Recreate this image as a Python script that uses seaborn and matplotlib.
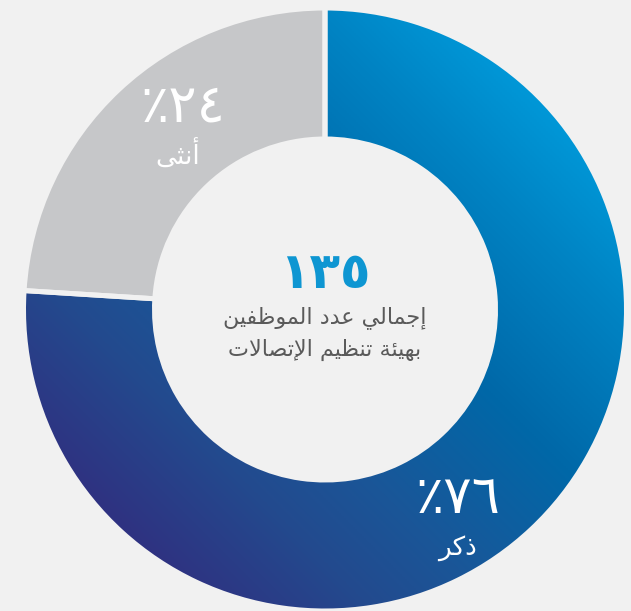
import numpy as np
import matplotlib
matplotlib.use("Agg")
import matplotlib.pyplot as plt
from matplotlib.colors import LinearSegmentedColormap
import seaborn as sns

# ---------------- data ----------------
categories = ["أنثى", "ذكر"]          # female, male
values = [24, 76]                      # percent
total_employees = "\u0661\u0663\u0665"  # ١٣٥

# Arabic text in logical order using presentation forms (shaped); reversed for LTR rendering
lbl_female = "\uFE83\uFEE7\uFE9C\uFEF0"          # أنثى
lbl_male = "\uFEAB\uFEDB\uFEAE"                   # ذكر
center_line1 = ("\uFE87\uFE9F\uFEE4\uFE8E\uFEDF\uFEF2" + " " +
                "\uFECB\uFEAA\uFEA9" + " " +
                "\uFE8D\uFEDF\uFEE4\uFEEE\uFEC7\uFED4\uFEF4\uFEE6")   # إجمالي عدد الموظفين
center_line2 = ("\uFE91\uFEEC\uFEF4\uFE8C\uFE94" + " " +
                "\uFE97\uFEE8\uFEC8\uFEF4\uFEE2" + " " +
                "\uFE8D\uFEF9\uFE97\uFEBC\uFE8E\uFEFB\uFE95")        # بهيئة تنظيم الإتصالات
pct_female = "\u066A\u0662\u0664"   # ٪٢٤ (visual order)
pct_male = "\u066A\u0667\u0666"     # ٪٧٦ (visual order)

def vis(s):
    return s[::-1]

# ---------------- style ----------------
BG = "#f1f1f1"
GREY = "#c6c7c9"
sns.set_theme(style="white")
plt.rcParams["font.family"] = ["DejaVu Sans"]

W, H = 631, 611
cx, cy, R_px = 325, 309.5, 299
gap_px = 5
fig = plt.figure(figsize=(W / 100, H / 100), dpi=100, facecolor=BG)
ax = fig.add_axes([0, 0, 1, 1])
ax.set_facecolor(BG)
ax.axis("off")

R = (R_px + gap_px / 2) / R_px
ring = (126 + gap_px) / R_px
lw_pt = gap_px * 72 / 100

wedges, _ = ax.pie(values, startangle=90, counterclock=True, radius=R,
                   colors=[GREY, "none"],
                   wedgeprops=dict(width=ring, edgecolor=BG, linewidth=lw_pt))
for w in wedges:
    w.set_zorder(3)

# gradient fill for the male wedge
cmap = LinearSegmentedColormap.from_list("blu", [
    (0.0, "#2f3281"), (0.2, "#234a8e"), (0.35, "#1a5698"),
    (0.6, "#0068a8"), (0.85, "#0084c4"), (1.0, "#0097d7")])
xs = np.linspace(-1.2, 1.2, 400)
ys = np.linspace(-1.2, 1.2, 400)
XX, YY = np.meshgrid(xs, ys)
T = (XX + YY) / np.sqrt(2)
T = np.clip((T + 1) / 2, 0, 1)
im = ax.imshow(T, cmap=cmap, extent=(-1.2, 1.2, -1.2, 1.2), origin="lower",
               zorder=2, interpolation="bilinear", aspect="auto")
im.set_clip_path(wedges[1])
ax.set_xlim(-cx / R_px, (W - cx) / R_px)
ax.set_ylim(-(H - cy) / R_px, cy / R_px)
ax.set_aspect("auto")

def px(x, y):
    return ((x - cx) / R_px, (cy - y) / R_px)

# center text
ax.text(*px(325, 274), total_employees, ha="center", va="center",
        fontsize=36, fontweight="bold", color="#0e96d2", zorder=5)
ax.text(*px(325, 318), vis(center_line1), ha="center", va="center",
        fontsize=16, color="#5a5a5a", zorder=5)
ax.text(*px(325, 350), vis(center_line2), ha="center", va="center",
        fontsize=16, color="#5a5a5a", zorder=5)

# segment labels
ax.text(*px(183, 106), pct_female, ha="center", va="center",
        fontsize=38, color="white", zorder=5)
ax.text(*px(178, 156), vis(lbl_female), ha="center", va="center",
        fontsize=19, color="white", zorder=5)
ax.text(*px(458, 498), pct_male, ha="center", va="center",
        fontsize=38, color="white", zorder=5)
ax.text(*px(458, 548), vis(lbl_male), ha="center", va="center",
        fontsize=19, color="white", zorder=5)

fig.savefig("out.png", dpi=100, facecolor=BG)
